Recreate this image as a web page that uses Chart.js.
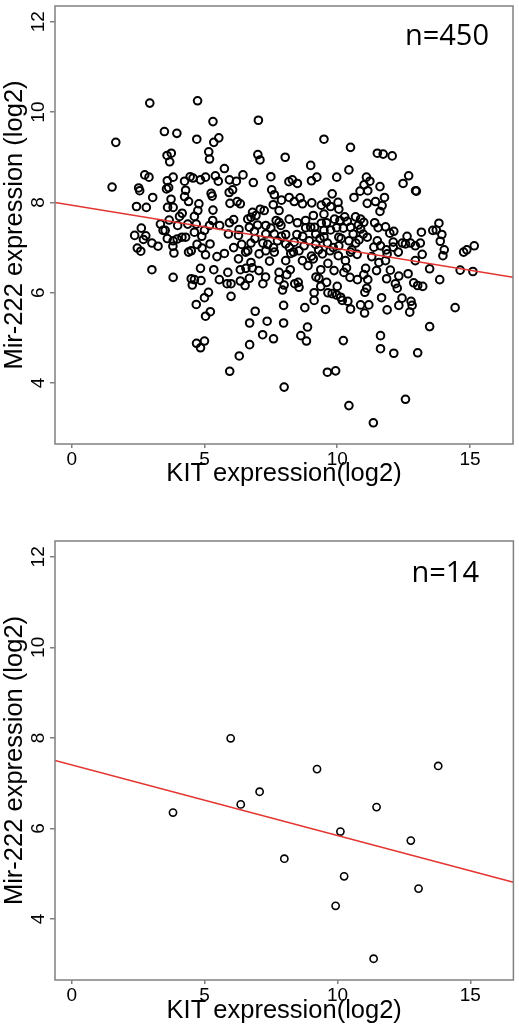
<!DOCTYPE html>
<html>
<head>
<meta charset="utf-8">
<script src="https://cdn.jsdelivr.net/npm/chart.js"></script>
<style>
  html, body { margin: 0; padding: 0; background: #fff; }
  .plot { position: absolute; left: 0; width: 519px; }
  #top { top: 0; height: 500px; }
  #bottom { top: 510px; height: 520px; }
</style>
</head>
<body>
<div class="plot" id="top"><canvas id="chartTop"></canvas></div>
<div class="plot" id="bottom"><canvas id="chartBottom"></canvas></div>
<script>
// axes (same for both panels)
const xTicks = [0, 5, 10, 15];
const yTicks = [4, 6, 8, 10, 12];
const xRange = [-0.63, 16.62];
const yRange = [2.65, 12.35];

// all samples, n=450 (KIT, Mir-222)
// (the last row is the overlapped core, estimated)
const kitAll = [
  2.94,4.74,5.32,3.49,3.96,4.71,1.66,5.54,5.35,5.16,5.19,3.59,3.75,3.69,5.75,2.75,2.91,3.82,3.60,1.52,
  2.52,2.56,3.57,3.65,4.25,4.46,4.57,4.85,5.04,5.41,5.52,4.29,3.05,2.44,2.81,3.74,3.61,3.82,4.25,4.40,
  5.25,5.29,4.79,4.75,5.32,4.16,4.06,4.62,3.67,5.31,3.34,3.44,3.52,3.99,4.37,4.69,5.00,4.62,5.19,5.57,
  2.62,2.37,2.79,2.70,3.02,3.25,2.47,2.60,3.82,3.97,4.15,4.29,3.81,3.85,4.50,4.72,4.91,5.21,5.04,5.47,
  5.75,
  7.03,9.50,10.50,7.01,7.09,8.04,9.00,10.44,6.45,5.94,6.20,6.84,7.50,8.18,8.31,8.50,9.03,9.23,9.98,
  5.93,6.06,7.53,7.63,9.81,10.63,5.96,6.23,6.35,7.59,7.90,8.19,8.38,8.60,8.69,9.04,9.40,9.59,9.75,10.03,
  10.06,7.10,6.81,6.94,7.25,7.81,6.75,6.63,6.10,5.94,6.69,6.88,7.31,7.50,7.81,7.88,8.19,8.81,9.10,8.81,
  9.15,9.40,9.50,9.90,10.28,10.38,9.50,9.75,9.98,10.23,10.50,6.28,7.31,7.63,8.06,8.48,9.19,9.50,10.06,
  6.40,6.75,7.38,7.75,8.06,8.38,8.75,9.19,9.63,10.06,10.44,6.63,7.06,7.31,7.63,8.25,8.56,9.03,9.44,
  9.73,10.04,10.50,6.28,6.75,8.06,8.69,9.10,10.31,
  11.51,11.73,12.07,12.69,12.48,12.98,12.95,11.10,11.23,11.01,10.86,11.15,11.61,11.78,11.13,11.44,11.69,
  11.61,10.69,10.88,11.00,11.41,11.54,11.82,12.13,11.98,10.88,10.98,11.13,10.82,11.51,11.63,12.11,12.11,
  12.63,12.57,12.76,12.94,13.13,13.17,13.60,13.73,13.83,13.94,13.88,14.03,13.98,14.76,14.88,15.16,11.88,
  11.38,12.94,11.57,11.82,
  3.02,3.82,4.50,4.62,4.87,4.54,4.85,5.35,5.56,5.15,5.00,4.69,5.22,5.04,4.70,5.00,4.85,
  5.88,5.85,6.00,6.00,6.35,6.56,6.35,6.53,6.69,7.05,7.20,6.91,6.70,7.36,7.19,7.60,6.70,6.31,5.95,7.81,
  7.81,8.00,7.94,8.23,8.40,8.53,8.56,7.98,7.98,8.78,8.88,8.63,8.84,8.00,9.38,9.31,9.38,9.60,9.13,9.13,
  9.56,9.65,9.81,10.00,9.98,10.13,10.19,10.40,10.50,9.88,10.25,10.48,10.23,9.63,9.94,10.44,
  10.76,11.15,11.11,11.04,11.07,11.48,11.86,12.19,12.26,12.32,12.67,12.88,13.03,13.22,13.48,13.86,14.63,
  15.11,11.67,12.44,12.78,12.82,12.32,11.88,12.73,11.19,10.88,11.03,14.44,13.48,11.63,11.63,12.13,13.03,
  12.57,11.36,
  6.90,7.20,7.60,7.90,8.20,8.35,8.70,8.95,9.30,9.35,9.85,10.15,10.55,10.70,10.75,10.60,6.55,7.45,8.90,
  9.65,10.35,11.30,11.85,12.30,12.45,7.00,7.70,8.50,9.00,9.60,10.10,10.80,6.30,6.10,5.90,4.90,4.40,3.60,
  11.00,9.20,8.10,7.30,6.80,12.00,13.20
];
const mirAll = [
  10.20,10.25,9.79,9.57,9.53,9.40,9.33,9.43,9.33,9.12,8.96,9.04,9.09,8.90,8.75,8.61,8.56,8.56,8.48,8.34,
  8.32,8.26,8.30,8.33,8.47,8.57,8.54,8.50,8.56,8.59,8.47,8.27,8.11,7.91,7.89,8.07,7.89,7.89,8.13,8.02,
  8.20,8.14,7.97,7.82,7.83,7.76,7.69,7.69,7.61,7.60,7.52,7.38,7.38,7.49,7.52,7.52,7.38,7.34,7.49,7.49,
  7.43,7.27,7.26,7.18,7.10,7.03,6.99,6.92,7.15,7.19,7.23,7.23,7.03,6.88,6.93,7.07,6.99,7.08,6.84,6.80,
  6.87,
  9.82,9.40,9.22,9.06,8.94,9.00,8.82,8.72,8.61,8.50,8.47,8.44,8.57,8.46,8.50,8.42,8.48,8.56,8.56,
  8.22,8.28,8.28,8.17,8.19,8.11,7.98,8.02,7.97,7.95,8.05,8.11,8.02,8.10,7.97,7.99,7.94,8.00,7.91,8.00,
  7.85,7.85,7.78,7.71,7.82,7.82,7.67,7.63,7.62,7.55,7.45,7.36,7.49,7.43,7.56,7.49,7.63,7.60,7.71,7.44,
  7.45,7.54,7.74,7.63,7.68,7.58,7.38,7.39,7.44,7.43,7.45,7.27,7.30,7.30,7.29,7.29,7.30,7.24,7.23,
  7.07,7.10,7.07,7.15,7.08,7.12,7.04,7.07,7.10,7.04,7.15,6.93,6.86,6.93,6.90,6.87,6.93,6.81,6.86,
  6.93,6.82,6.90,6.75,6.67,6.71,6.71,6.75,6.71,
  9.09,9.07,9.03,8.59,8.42,8.25,8.26,8.56,8.47,8.39,8.25,8.26,8.35,8.11,7.98,8.02,7.93,
  7.80,7.68,7.63,7.56,7.55,7.44,7.46,7.36,7.32,7.41,7.30,7.23,7.17,7.15,7.04,7.12,7.01,
  7.25,7.08,7.10,7.04,7.10,7.34,7.38,7.39,7.54,7.29,7.14,6.95,6.82,6.90,6.95,7.04,6.86,
  7.01,6.71,6.67,6.71,
  6.51,6.34,6.31,6.29,6.27,6.17,6.54,6.51,6.29,6.01,5.89,5.74,5.58,5.48,4.88,4.93,4.78,
  6.45,6.20,6.20,5.92,6.51,6.54,6.26,6.16,6.32,6.49,6.20,5.59,5.33,5.37,5.07,4.98,4.85,4.60,4.26,6.45,
  6.29,6.17,6.06,6.51,6.20,6.23,6.12,5.72,5.33,5.67,5.24,5.05,4.93,3.91,6.51,6.32,6.14,6.23,6.00,5.83,
  5.63,6.00,5.98,6.14,5.95,5.90,5.83,5.81,5.64,6.49,6.45,6.34,4.94,4.24,4.27,3.50,
  6.29,6.29,6.10,6.01,6.54,6.49,6.31,6.20,6.10,6.37,6.42,6.22,6.16,6.14,6.53,6.29,6.50,
  6.47,5.89,5.88,5.81,5.72,5.72,5.62,5.57,5.73,5.73,5.55,5.67,5.25,5.05,4.76,4.66,4.67,
  3.64,3.12,
  7.20,7.10,7.00,7.25,7.00,6.90,7.25,7.15,6.95,7.20,7.00,7.20,6.95,7.10,6.85,7.30,6.90,6.70,6.60,
  6.65,6.55,6.80,6.95,6.90,7.10,7.50,7.60,7.55,7.45,7.55,7.60,7.50,7.40,7.00,7.30,7.25,6.90,7.20,
  6.40,6.35,6.40,6.35,6.55,6.50,6.85
];

// subset, n=14
const kitSmall = [3.81, 5.98, 6.36, 7.07, 8.00, 9.23, 9.93, 10.11, 10.25, 11.36, 11.47, 12.76, 13.05, 13.79];
const mirSmall = [6.35, 7.99, 6.53, 6.81, 5.33, 7.31, 4.29, 5.93, 4.94, 3.12, 6.47, 5.73, 4.67, 7.38];

// fitted lines, value at each end of the x range
const fitX = [-0.63, 16.62];
const fitAll = [8.00, 6.34];
const fitSmall = [7.50, 4.81];

Chart.defaults.font.family = "'Liberation Sans', Arial, sans-serif";
Chart.defaults.color = '#000';

const frame = {
  id: 'frame',
  afterDraw(chart, args, opts) {
    const ctx = chart.ctx;
    const a = chart.chartArea;
    const ys = chart.scales.y;
    ctx.save();
    ctx.strokeStyle = '#808080';
    ctx.lineWidth = 1.5;
    ctx.strokeRect(a.left, a.top, a.right - a.left, a.bottom - a.top);
    // y tick labels, rotated like the original
    ctx.fillStyle = '#000';
    ctx.font = "19px 'Liberation Sans', Arial, sans-serif";
    ctx.textAlign = 'center';
    ctx.textBaseline = 'alphabetic';
    yTicks.forEach(v => {
      ctx.save();
      ctx.translate(a.left - 11, ys.getPixelForValue(v));
      ctx.rotate(-Math.PI / 2);
      ctx.fillText(String(v), 0, 0);
      ctx.restore();
    });
    // n label
    ctx.font = "29px 'Open Sans', sans-serif";
    ctx.textAlign = 'right';
    ctx.fillText(opts.text, opts.x, opts.y);
    ctx.restore();
  }
};

function makeChart(id, xs, ys, fitY, cfg) {
  const pts = xs.map((x, i) => ({ x: x, y: ys[i] }));
  const line = fitX.map((x, i) => ({ x: x, y: fitY[i] }));
  return new Chart(document.getElementById(id), {
    type: 'scatter',
    data: {
      datasets: [
        {
          type: 'line',
          data: line,
          borderColor: '#e3342f',
          borderWidth: 1.5,
          pointRadius: 0,
          order: 0
        },
        {
          data: pts,
          pointStyle: 'circle',
          pointRadius: cfg.radius,
          pointBorderWidth: cfg.stroke,
          borderColor: '#000',
          backgroundColor: 'rgba(0,0,0,0)',
          order: 1
        }
      ]
    },
    options: {
      responsive: true,
      maintainAspectRatio: false,
      animation: false,
      events: [],
      layout: { padding: { top: cfg.padTop, right: 4, left: 0, bottom: 0 } },
      plugins: {
        legend: { display: false },
        tooltip: { enabled: false },
        frame: { text: cfg.text, x: cfg.textX, y: cfg.textY }
      },
      scales: {
        x: {
          type: 'linear',
          min: xRange[0],
          max: xRange[1],
          afterBuildTicks: s => { s.ticks = xTicks.map(v => ({ value: v })); },
          afterFit: s => { s.height = cfg.axisH; },
          border: { display: false },
          grid: { drawOnChartArea: false, drawTicks: true, tickLength: 4, color: '#808080', lineWidth: 1.5 },
          ticks: { font: { size: 19 }, color: '#000', padding: 0, maxRotation: 0 },
          title: {
            display: true,
            text: 'KIT expression(log2)',
            font: { size: 25.5 },
            color: '#000',
            padding: { top: 0, bottom: cfg.titlePad }
          }
        },
        y: {
          type: 'linear',
          min: yRange[0],
          max: yRange[1],
          afterBuildTicks: s => { s.ticks = yTicks.map(v => ({ value: v })); },
          afterFit: s => { s.width = 55; },
          border: { display: false },
          grid: { drawOnChartArea: false, drawTicks: true, tickLength: 5, color: '#808080', lineWidth: 1.5 },
          ticks: { display: false },
          title: {
            display: true,
            text: 'Mir-222 expression (log2)',
            font: { size: 25.5 },
            color: '#000',
            padding: { top: 0, bottom: 0 }
          }
        }
      }
    },
    plugins: [frame]
  });
}

makeChart('chartTop', kitAll, mirAll, fitAll, {
  padTop: 5, axisH: 56, titlePad: 10.7, radius: 3.8, stroke: 2,
  text: 'n=450', textX: 489, textY: 45
});
makeChart('chartBottom', kitSmall, mirSmall, fitSmall, {
  padTop: 31, axisH: 50, titlePad: 3.7, radius: 3.6, stroke: 1.6,
  text: 'n=14', textX: 479, textY: 71.7
});
</script>
</body>
</html>
